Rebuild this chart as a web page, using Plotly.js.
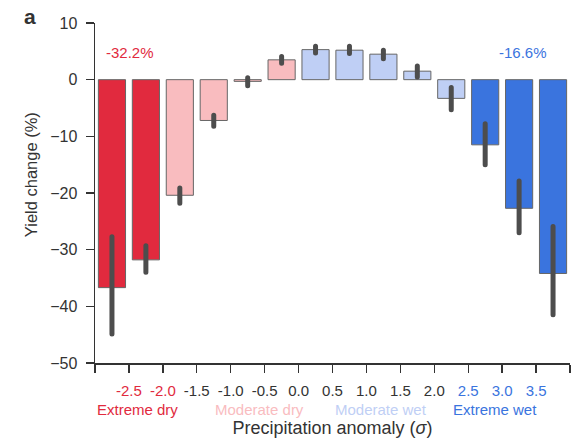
<!DOCTYPE html>
<html>
<head>
<meta charset="utf-8">
<script src="https://cdn.plot.ly/plotly-3.0.1.min.js"></script>
<style>html,body{margin:0;padding:0;background:#fff;}#chart{width:577px;height:439px;}</style>
</head>
<body>
<div id="chart"></div>
<script>
// Bin centres of precipitation anomaly (sigma); bins are 0.5 wide
var binCenters = [-2.75, -2.25, -1.75, -1.25, -0.75, -0.25, 0.25, 0.75, 1.25, 1.75, 2.25, 2.75, 3.25, 3.75];
// Mean yield change (%)
var yieldChange = [-36.7, -31.8, -20.4, -7.2, -0.3, 3.5, 5.3, 5.2, 4.5, 1.5, -3.3, -11.5, -22.7, -34.2];
// Upper and lower ends of the uncertainty bars (%)
var ciHigh = [-27.7, -29.3, -19.1, -6.3, 0.35, 4.1, 5.9, 5.9, 5.2, 2.4, -1.4, -7.8, -17.9, -25.9];
var ciLow  = [-44.9, -34.0, -21.8, -8.2, -1.06, 2.9, 4.7, 4.6, 3.7, 0.46, -5.3, -15.0, -27.0, -41.5];
// Category of each bin
var binClass = ["ed","ed","md","md","md","md","mw","mw","mw","mw","mw","ew","ew","ew"];
// Tick edges and labels
var tickEdges = [-3.0, -2.5, -2.0, -1.5, -1.0, -0.5, 0.0, 0.5, 1.0, 1.5, 2.0, 2.5, 3.0, 3.5, 4.0];
var tickLabels = ["", "-2.5", "-2.0", "-1.5", "-1.0", "-0.5", "0.0", "0.5", "1.0", "1.5", "2.0", "2.5", "3.0", "3.5", ""];
var tickClass = ["", "ed", "ed", "", "", "", "", "", "", "", "", "ew", "ew", "ew", ""];
var yTicks = [-50, -40, -30, -20, -10, 0, 10];
// Category names and their totals
var categoryNames = ["Extreme dry", "Moderate dry", "Moderate wet", "Extreme wet"];
var categoryKeys = ["ed", "md", "mw", "ew"];
var categoryPos = [-2.38, -0.58, 1.22, 2.89];
var totalLabels = ["-32.2%", "-16.6%"];
var totalPos = [-2.48, 3.31];
var totalY = 4.8;

var colors = {ed: "#e12a3e", md: "#f9bcbf", mw: "#bfcff5", ew: "#3a74de"};
var textColors = {ed: "#e12a3e", md: "#f9bcbf", mw: "#bfcff5", ew: "#3a74de", "": "#333333"};
var font = "Liberation Sans, Arial, Helvetica, sans-serif";

var errPlus = yieldChange.map(function(v, i){ return ciHigh[i] - v; });
var errMinus = yieldChange.map(function(v, i){ return v - ciLow[i]; });

var trace = {
  type: "bar",
  x: binCenters,
  y: yieldChange,
  width: 0.4,
  marker: {color: binClass.map(function(c){ return colors[c]; }), line: {color: "#666666", width: 1}},
  error_y: {type: "data", symmetric: false, array: errPlus, arrayminus: errMinus, thickness: 5, width: 0, color: "#4d4d4d"},
  hoverinfo: "x+y"
};

var tickText = tickLabels.map(function(t, i){
  var c = textColors[tickClass[i]];
  return t === "" ? "" : '<span style="color:' + c + '">' + t + '</span>';
});

var annotations = [];
categoryNames.forEach(function(n, i){
  annotations.push({text: n, x: categoryPos[i], xref: "x", y: -0.137, yref: "paper", showarrow: false,
    xanchor: "center", yanchor: "middle", font: {family: font, size: 15, color: textColors[categoryKeys[i]]}});
});
annotations.push({text: totalLabels[0], x: totalPos[0], xref: "x", y: totalY, yref: "y", showarrow: false,
  xanchor: "center", yanchor: "middle", font: {family: font, size: 15, color: colors.ed}});
annotations.push({text: totalLabels[1], x: totalPos[1], xref: "x", y: totalY, yref: "y", showarrow: false,
  xanchor: "center", yanchor: "middle", font: {family: font, size: 15, color: colors.ew}});
annotations.push({text: "<b>a</b>", x: -0.137, xref: "paper", y: 1.02, yref: "paper", showarrow: false,
  xanchor: "center", yanchor: "middle", font: {family: font, size: 21, color: "#333333"}});
annotations.push({text: "Yield change (%)", x: -0.135, xref: "paper", y: 0.555, yref: "paper", showarrow: false,
  textangle: -90, xanchor: "center", yanchor: "middle", font: {family: font, size: 16.5, color: "#333333"}});

var layout = {
  width: 577, height: 439,
  margin: {l: 95, r: 7, t: 23, b: 76, pad: 0},
  paper_bgcolor: "#ffffff", plot_bgcolor: "#ffffff",
  showlegend: false,
  bargap: 0,
  font: {family: font, color: "#333333"},
  xaxis: {
    range: [-3, 4], tickmode: "array", tickvals: tickEdges, ticktext: tickText,
    ticks: "outside", ticklen: 8, tickwidth: 1.3, tickcolor: "#333333",
    showline: true, linecolor: "#333333", linewidth: 1.5,
    showgrid: false, zeroline: false,
    tickfont: {family: font, size: 15, color: "#333333"},
    ticklabelstandoff: 5,
    title: {text: "Precipitation anomaly (<i>σ</i>)", font: {family: font, size: 18, color: "#333333"}, standoff: 24},
    automargin: false
  },
  yaxis: {
    range: [-50, 10], tickmode: "array", tickvals: yTicks,
    ticks: "outside", ticklen: 8, tickwidth: 1.3, tickcolor: "#333333",
    showline: true, linecolor: "#333333", linewidth: 1.5,
    showgrid: false, zeroline: false,
    tickfont: {family: font, size: 16, color: "#333333"},
    ticklabelstandoff: 5,
    automargin: false
  },
  annotations: annotations
};

Plotly.newPlot("chart", [trace], layout, {displayModeBar: false, staticPlot: true}).then(function(){
  // round the ends of the uncertainty bars like the reference
  document.querySelectorAll(".errorbar path").forEach(function(p){ p.style.strokeLinecap = "round"; });
});
</script>
</body>
</html>
